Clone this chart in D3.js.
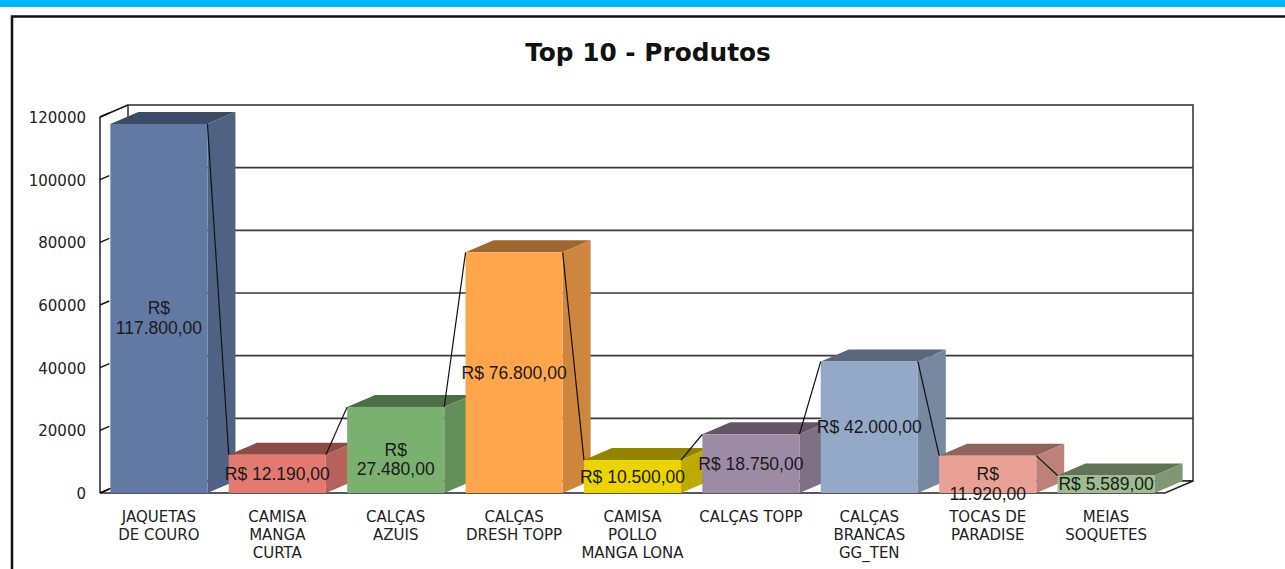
<!DOCTYPE html>
<html>
<head>
<meta charset="utf-8">
<script src="https://cdn.jsdelivr.net/npm/d3@7"></script>
<style>
  html, body { margin: 0; padding: 0; background: #fff; }
  svg { display: block; }
</style>
</head>
<body>
<div id="chart"></div>
<script>
// Top 10 - Produtos: 3D-style column chart with a connecting line
const title = 'Top 10 - Produtos';
const categories = [
  'JAQUETAS\nDE COURO',
  'CAMISA\nMANGA\nCURTA',
  'CALÇAS\nAZUIS',
  'CALÇAS\nDRESH TOPP',
  'CAMISA\nPOLLO\nMANGA LONA',
  'CALÇAS TOPP',
  'CALÇAS\nBRANCAS\nGG_TEN',
  'TOCAS DE\nPARADISE',
  'MEIAS\nSOQUETES'
];
const values = [117800, 12190, 27480, 76800, 10500, 18750, 42000, 11920, 5589];
const yTicks = [0, 20000, 40000, 60000, 80000, 100000, 120000];
const barColors = ['#627aa3', '#e27a71', '#7bb170', '#ffa64d', '#ecd400', '#9d8aa5', '#94a9c8', '#e9a196', '#9dbc8f'];

(function () {
  const width = 1285;
  const height = 569;
  const DX = 28;   // depth offset
  const DY = -12;
  const wrapped = new Set([0, 2, 7]); // value labels broken onto two lines

  const brl = d3.formatLocale({ decimal: ',', thousands: '.', grouping: [3], currency: ['R$ ', ''] });
  const money = brl.format('$,.2f');

  const svg = d3.select('#chart').append('svg')
    .attr('width', width)
    .attr('height', height);

  // page chrome: cyan band + frame
  svg.append('rect').attr('x', 0).attr('y', 0).attr('width', width).attr('height', 7).attr('fill', '#00b6ff');
  svg.append('path')
    .attr('d', `M12,${height}V16.5H${width}`)
    .attr('fill', 'none').attr('stroke', '#111').attr('stroke-width', 2.5);

  svg.append('text')
    .attr('x', 648).attr('y', 61)
    .attr('text-anchor', 'middle')
    .style('font-family', '"DejaVu Sans", Verdana, sans-serif')
    .style('font-weight', 'bold')
    .style('font-size', '24.8px')
    .attr('fill', '#111')
    .text(title);

  const x = d3.scaleBand()
    .domain(d3.range(categories.length))
    .range([100, 1165])
    .paddingInner(0.18)
    .paddingOuter(0.0875);

  const y = d3.scaleLinear().domain([0, 120000]).range([493, 117]);

  const x0 = 100, x1 = 1165;
  const yTop = y(120000), yZero = y(0);

  // back wall and gridlines
  const wall = svg.append('g');
  wall.append('rect')
    .attr('x', x0 + DX).attr('y', yTop + DY)
    .attr('width', x1 - x0).attr('height', yZero - yTop)
    .attr('fill', '#fff').attr('stroke', '#3a3a3a').attr('stroke-width', 1.6);
  wall.selectAll('line.grid')
    .data(yTicks.slice(1, -1))
    .enter().append('line')
    .attr('class', 'grid')
    .attr('x1', x0 + DX).attr('x2', x1 + DX)
    .attr('y1', d => y(d) + DY).attr('y2', d => y(d) + DY)
    .attr('stroke', '#3a3a3a').attr('stroke-width', 1.6);

  // floor
  svg.append('path')
    .attr('d', `M${x0},${yZero}L${x1},${yZero}L${x1 + DX},${yZero + DY}L${x0 + DX},${yZero + DY}Z`)
    .attr('fill', '#fff').attr('stroke', '#222').attr('stroke-width', 1.4);

  // front value axis with slanted tick stubs
  const axis = svg.append('g');
  axis.append('path')
    .attr('d', `M${x0 + DX},${yTop + DY}L${x0},${yTop}V${yZero}`)
    .attr('fill', 'none').attr('stroke', '#111').attr('stroke-width', 1.4);
  axis.selectAll('path.stub')
    .data(yTicks)
    .enter().append('path')
    .attr('class', 'stub')
    .attr('d', d => `M${x0},${y(d)}l${DX / 3},${DY / 3}`)
    .attr('stroke', '#111').attr('stroke-width', 1.4);
  axis.selectAll('text')
    .data(yTicks)
    .enter().append('text')
    .attr('x', 86).attr('y', d => y(d) + 1)
    .attr('text-anchor', 'end')
    .attr('dominant-baseline', 'central')
    .style('font-family', '"DejaVu Sans", Verdana, sans-serif')
    .style('font-size', '15px')
    .attr('fill', '#222')
    .text(d => d);

  // bars: front, side, top faces
  const bw = x.bandwidth();
  const bars = svg.selectAll('g.bar')
    .data(values)
    .enter().append('g')
    .attr('class', 'bar');

  bars.append('path')
    .attr('d', (d, i) => {
      const l = x(i), r = l + bw, t = y(d);
      return `M${l},${t}L${l + DX},${t + DY}L${r + DX},${t + DY}L${r},${t}Z`;
    })
    .attr('fill', (d, i) => d3.rgb(barColors[i]).darker(1.35));
  bars.append('path')
    .attr('d', (d, i) => {
      const r = x(i) + bw, t = y(d);
      return `M${r},${t}L${r + DX},${t + DY}L${r + DX},${yZero + DY}L${r},${yZero}Z`;
    })
    .attr('fill', (d, i) => d3.rgb(barColors[i]).darker(0.6));
  bars.append('rect')
    .attr('x', (d, i) => x(i))
    .attr('y', d => y(d))
    .attr('width', bw)
    .attr('height', d => yZero - y(d))
    .attr('fill', (d, i) => barColors[i]);

  // connecting line: right corner of each bar to left corner of the next
  const segs = d3.pairs(values.map((v, i) => i));
  svg.selectAll('line.link')
    .data(segs)
    .enter().append('line')
    .attr('class', 'link')
    .attr('x1', p => x(p[0]) + bw).attr('y1', p => y(values[p[0]]))
    .attr('x2', p => x(p[1])).attr('y2', p => y(values[p[1]]))
    .attr('stroke', '#111').attr('stroke-width', 1.2);

  // value labels
  const labels = svg.selectAll('text.val')
    .data(values)
    .enter().append('text')
    .attr('class', 'val')
    .attr('text-anchor', 'middle')
    .style('font-family', '"Liberation Sans", Arial, sans-serif')
    .style('font-size', '17.5px')
    .attr('fill', '#1a1a1a');
  labels.each(function (d, i) {
    const text = money(d);
    const lines = wrapped.has(i) ? text.split(' ') : [text];
    const cx = x(i) + bw / 2;
    const cy = (y(d) + yZero) / 2;
    d3.select(this).selectAll('tspan')
      .data(lines)
      .enter().append('tspan')
      .attr('x', cx)
      .attr('y', (s, k) => cy + k * 19.5)
      .attr('dominant-baseline', 'central')
      .text(s => s);
  });

  // category labels
  const cats = svg.selectAll('text.cat')
    .data(categories)
    .enter().append('text')
    .attr('class', 'cat')
    .attr('text-anchor', 'middle')
    .style('font-family', '"DejaVu Sans", Verdana, sans-serif')
    .style('font-size', '15px')
    .attr('fill', '#222');
  cats.each(function (d, i) {
    d3.select(this).selectAll('tspan')
      .data(d.split('\n'))
      .enter().append('tspan')
      .attr('x', x(i) + bw / 2)
      .attr('y', (s, k) => 522 + k * 18)
      .text(s => s);
  });
})();
</script>
</body>
</html>
